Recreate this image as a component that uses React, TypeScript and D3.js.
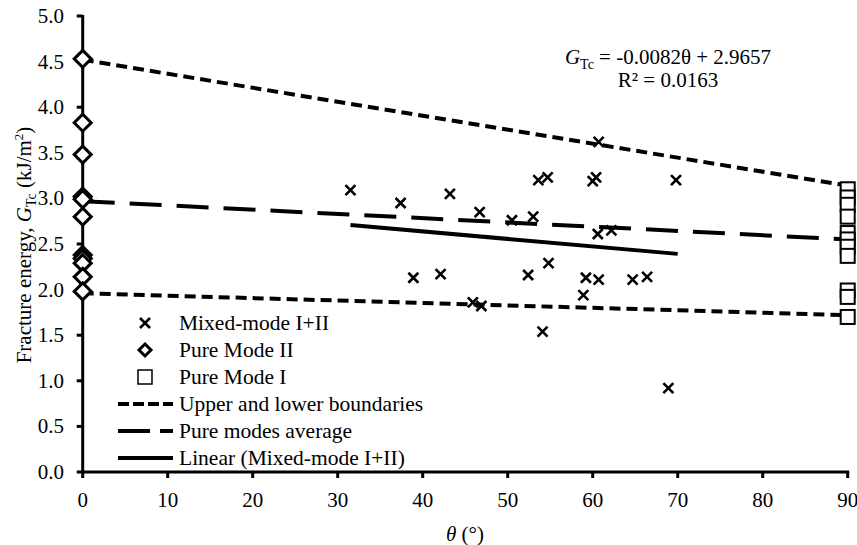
import React from 'react';
import * as d3 from 'd3';

// mixed-mode I+II specimens (theta in degrees, G_Tc in kJ/m2)
const mixedTheta = [31.5, 37.4, 43.2, 46.7, 50.5, 53.0, 53.6, 54.7, 60.0, 60.4, 60.7, 69.8, 60.6, 62.2,
  38.9, 42.1, 52.4, 54.8, 59.2, 60.7, 64.7, 66.4, 58.9, 45.9, 46.9, 54.1, 68.9];
const mixedG = [3.09, 2.95, 3.05, 2.85, 2.76, 2.80, 3.20, 3.23, 3.19, 3.23, 3.62, 3.20, 2.61, 2.65,
  2.13, 2.17, 2.16, 2.29, 2.13, 2.11, 2.11, 2.14, 1.94, 1.86, 1.82, 1.54, 0.92];

// pure mode II at theta = 0, pure mode I at theta = 90
const modeIIG = [4.53, 3.83, 3.48, 3.02, 2.99, 2.80, 2.38, 2.34, 2.29, 2.14, 1.98];
const modeIG = [3.10, 3.01, 2.93, 2.80, 2.62, 2.55, 2.47, 2.37, 1.99, 1.92, 1.70];

const lineTheta = [0, 90];
const upperG = [4.52, 3.14];
const lowerG = [1.96, 1.72];
const averageG = [2.97, 2.55];

// trend line from the fitted equation, over the mixed-mode range
const trendSlope = -0.0082;
const trendIntercept = 2.9657;
const trendTheta = [31.5, 70];

const xTicks = [0, 10, 20, 30, 40, 50, 60, 70, 80, 90];
const yTicks = [0, 0.5, 1, 1.5, 2, 2.5, 3, 3.5, 4, 4.5, 5];

const legendLabels = [
  'Mixed-mode I+II',
  'Pure Mode II',
  'Pure Mode I',
  'Upper and lower boundaries',
  'Pure modes average',
  'Linear (Mixed-mode I+II)',
];

const W = 857;
const H = 545;
const serif = { fontFamily: "'Liberation Serif'" };

const x = d3.scaleLinear().domain([0, 90]).range([82.7, 847.7]);
const y = d3.scaleLinear().domain([0, 5]).range([472, 16]);

const line = d3.line<[number, number]>().x(d => x(d[0])).y(d => y(d[1]));

const Cross = ({ cx, cy }: { cx: number; cy: number }) => (
  <path d={`M${cx - 5},${cy - 5}L${cx + 5},${cy + 5}M${cx - 5},${cy + 5}L${cx + 5},${cy - 5}`}
    stroke="#000" strokeWidth={2.6} fill="none" />
);

const Diamond = ({ cx, cy }: { cx: number; cy: number }) => (
  <path d={`M${cx},${cy - 8.5}L${cx + 8.5},${cy}L${cx},${cy + 8.5}L${cx - 8.5},${cy}Z`}
    stroke="#000" strokeWidth={3} fill="#fff" />
);

const Square = ({ cx, cy, sw = 2 }: { cx: number; cy: number; sw?: number }) => (
  <rect x={cx - 7} y={cy - 7} width={14} height={14} stroke="#000" strokeWidth={sw} fill="#fff" />
);

const App = () => {
  const zip = (xs: number[], ys: number[]) => xs.map((v, i) => [v, ys[i]] as [number, number]);
  const trend = trendTheta.map(t => [t, trendSlope * t + trendIntercept] as [number, number]);
  const legendY = d3.range(legendLabels.length).map(i => 323 + i * 27);

  return (
    <svg width={W} height={H} style={{ position: 'absolute', left: 0, top: 0, background: '#fff' }}>
      {/* axes */}
      <g stroke="#000" strokeWidth={3}>
        <line x1={x(0)} x2={x(0)} y1={y(5) - 1} y2={y(0)} />
        <line x1={x(0) - 1.5} x2={x(90) + 1.5} y1={y(0)} y2={y(0)} />
        {yTicks.map(t => <line key={t} x1={x(0) - 6} x2={x(0)} y1={y(t)} y2={y(t)} />)}
        {xTicks.map(t => <line key={t} x1={x(t)} x2={x(t)} y1={y(0)} y2={y(0) + 6} />)}
      </g>
      <g fontSize={21} fill="#000">
        {yTicks.map(t => (
          <text key={t} x={64} y={y(t) + 7} textAnchor="end" style={serif}>{t.toFixed(1)}</text>
        ))}
        {xTicks.map(t => (
          <text key={t} x={x(t)} y={507} textAnchor="middle" style={serif}>{t}</text>
        ))}
      </g>

      {/* boundary, average and trend lines */}
      <g fill="none" stroke="#000" strokeWidth={4}>
        <path d={line(zip(lineTheta, upperG)) ?? ''} strokeDasharray="11 6" />
        <path d={line(zip(lineTheta, lowerG)) ?? ''} strokeDasharray="11 6" />
        <path d={line(zip(lineTheta, averageG)) ?? ''} strokeDasharray="32 15" />
        <path d={line(trend) ?? ''} />
      </g>

      {/* markers */}
      {mixedTheta.map((t, i) => <Cross key={'m' + i} cx={x(t)} cy={y(mixedG[i])} />)}
      {modeIIG.map((g, i) => <Diamond key={'d' + i} cx={x(0)} cy={y(g)} />)}
      {modeIG.map((g, i) => <Square key={'s' + i} cx={x(90)} cy={y(g)} />)}

      {/* equation */}
      <g fontSize={21} textAnchor="middle">
        <text x={668} y={64} style={serif}>
          <tspan fontStyle="italic">G</tspan>
          <tspan fontSize={14} dy={5}>Tc</tspan>
          <tspan dy={-5}> = -0.0082θ + 2.9657</tspan>
        </text>
        <text x={668} y={87} style={serif}>R² = 0.0163</text>
      </g>

      {/* legend */}
      <g>
        <Cross cx={145} cy={legendY[0]} />
        <path d={`M145,${legendY[1] - 6}L151,${legendY[1]}L145,${legendY[1] + 6}L139,${legendY[1]}Z`}
          stroke="#000" strokeWidth={3} fill="#fff" />
        <rect x={138} y={legendY[2] - 7} width={14} height={14} stroke="#000" strokeWidth={1.5} fill="#fff" />
        <g stroke="#000" strokeWidth={4} fill="none">
          <line x1={118} x2={173} y1={legendY[3]} y2={legendY[3]} strokeDasharray="11 4" />
          <line x1={118} x2={173} y1={legendY[4]} y2={legendY[4]} strokeDasharray="32 10" />
          <line x1={118} x2={173} y1={legendY[5]} y2={legendY[5]} />
        </g>
        {legendLabels.map((l, i) => (
          <text key={l} x={179} y={legendY[i] + 7} fontSize={21.5} style={serif}>{l}</text>
        ))}
      </g>

      {/* axis titles */}
      <text transform="translate(31,245) rotate(-90)" fontSize={21} textAnchor="middle" style={serif}>
        Fracture energy, <tspan fontStyle="italic">G</tspan>
        <tspan fontSize={14} dy={5}>Tc</tspan>
        <tspan dy={-5}> (kJ/m</tspan>
        <tspan fontSize={13} dy={-8}>2</tspan>
        <tspan dy={8}>)</tspan>
      </text>
      <text x={465} y={541} fontSize={21} textAnchor="middle" style={serif}>
        <tspan fontStyle="italic">θ</tspan> (°)
      </text>
    </svg>
  );
};

export default App;
